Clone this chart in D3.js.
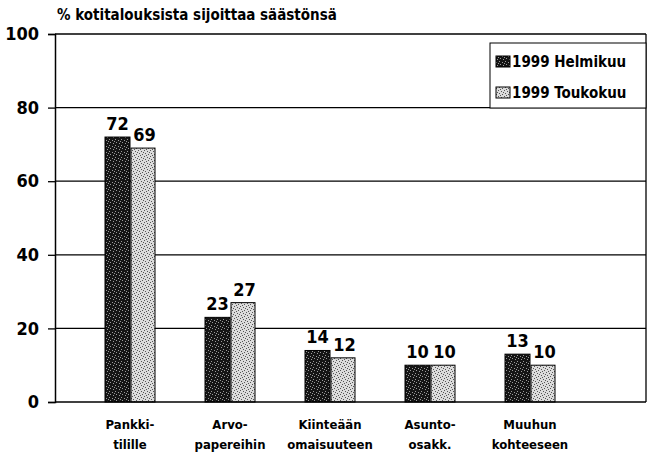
<!DOCTYPE html>
<html><head><meta charset="utf-8">
<script src="https://cdn.jsdelivr.net/npm/d3@7"></script>
<style>body{margin:0;background:#fff}svg{display:block}</style>
</head><body>
<script>
const categories = [["Pankki-","tilille"],["Arvo-","papereihin"],["Kiinteään","omaisuuteen"],["Asunto-","osakk."],["Muuhun","kohteeseen"]];
const seriesNames = ["1999 Helmikuu","1999 Toukokuu"];
const helmikuu = [72,23,14,10,13];
const toukokuu = [69,27,12,10,10];
const yTicks = [0,20,40,60,80,100];
const title = "% kotitalouksista sijoittaa säästönsä";

(function(){
const W=655,H=454;
const svg=d3.select("body").append("svg").attr("width",W).attr("height",H);
const cfont="'DejaVu Sans Condensed','DejaVu Sans',sans-serif";
const defs=svg.append("defs");
const pd=defs.append("pattern").attr("id","pDark").attr("patternUnits","userSpaceOnUse").attr("width",6).attr("height",6);
pd.append("rect").attr("width",6).attr("height",6).attr("fill","#151515");
[[1,1],[4,2],[2,4],[5,5],[0,3]].forEach(([a,b])=>pd.append("rect").attr("x",a).attr("y",b).attr("width",1).attr("height",1).attr("fill","#9a9a9a"));
const pl=defs.append("pattern").attr("id","pLight").attr("patternUnits","userSpaceOnUse").attr("width",6).attr("height",6);
pl.append("rect").attr("width",6).attr("height",6).attr("fill","#dcdcdc");
[[0,0],[3,1],[1,3],[4,4],[5,2],[2,5]].forEach(([a,b])=>pl.append("rect").attr("x",a).attr("y",b).attr("width",1).attr("height",1).attr("fill","#555"));

const mL=55,mR=646,mT=34,mB=402;
const x=d3.scaleBand().domain(d3.range(categories.length)).range([80,580]).paddingInner(0.5).paddingOuter(0.25);
const y=d3.scaleLinear().domain([0,100]).range([mB,mT]);

svg.append("g").selectAll("line").data(yTicks.filter(t=>t>0)).join("line")
 .attr("x1",mL).attr("x2",mR).attr("y1",d=>y(d)).attr("y2",d=>y(d))
 .attr("stroke","#000").attr("stroke-width",1.3);
svg.append("line").attr("x1",mR).attr("x2",mR).attr("y1",mT).attr("y2",mB).attr("stroke","#000").attr("stroke-width",1.3);

const ya=svg.append("g").attr("transform",`translate(${mL},0)`)
 .call(d3.axisLeft(y).tickValues(yTicks).tickSize(7).tickPadding(9));
ya.select(".domain").attr("stroke-width",1.5);
ya.selectAll("line").attr("stroke-width",1.3);
ya.selectAll("text").attr("font-family",cfont).attr("font-weight","bold").attr("font-size",18).attr("fill","#000");

const bw=25;
[helmikuu,toukokuu].forEach((vals,si)=>{
  svg.append("g").selectAll("rect").data(vals).join("rect")
   .attr("x",(d,i)=>x(i)+x.bandwidth()/2-bw+si*bw+(si?1:0))
   .attr("y",d=>y(d)).attr("width",bw-(si?1:0)).attr("height",d=>mB-y(d))
   .attr("fill",si?"url(#pLight)":"url(#pDark)").attr("stroke","#000").attr("stroke-width",1);
  svg.append("g").selectAll("text").data(vals).join("text")
   .attr("x",(d,i)=>x(i)+x.bandwidth()/2-bw/2+si*bw+(si?2:0))
   .attr("y",d=>y(d)-7).attr("text-anchor","middle")
   .attr("font-family",cfont).attr("font-weight","bold").attr("font-size",18).text(d=>d);
});

svg.append("line").attr("x1",mL).attr("x2",mR).attr("y1",mB).attr("y2",mB).attr("stroke","#000").attr("stroke-width",1.5);

const cl=svg.append("g").selectAll("text").data(categories).join("text")
 .attr("text-anchor","middle").attr("font-family",cfont).attr("font-weight","bold").attr("font-size",13);
cl.each(function(d,i){
  const t=d3.select(this);
  d.forEach((s,j)=>t.append("tspan").attr("x",x(i)+x.bandwidth()/2).attr("y",429+j*20).text(s));
});

svg.append("text").attr("x",57).attr("y",20).attr("font-family",cfont).attr("font-weight","bold").attr("font-size",15).text(title);

const lg=svg.append("g");
lg.append("rect").attr("x",490).attr("y",43).attr("width",156).attr("height",65).attr("fill","#fff").attr("stroke","#000").attr("stroke-width",1);
seriesNames.forEach((s,i)=>{
  const yy=62+i*31;
  lg.append("rect").attr("x",496).attr("y",yy-6).attr("width",14).attr("height",11)
    .attr("fill",i?"url(#pLight)":"url(#pDark)").attr("stroke","#000").attr("stroke-width",1);
  lg.append("text").attr("x",512).attr("y",yy+5).attr("font-family",cfont).attr("font-weight","bold").attr("font-size",15).text(s);
});
})();
</script>
</body></html>
